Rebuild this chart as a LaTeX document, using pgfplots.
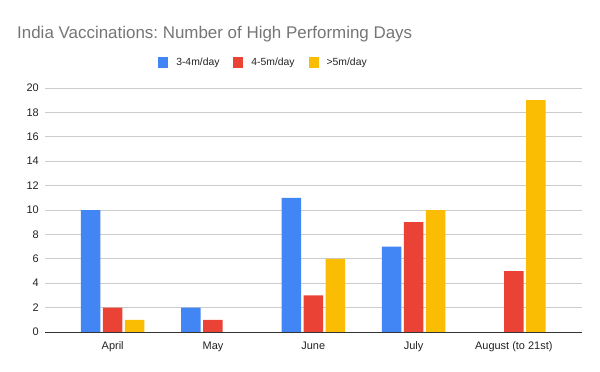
\documentclass[border=0pt]{standalone}
\usepackage{fontspec}
\setmainfont{Liberation Sans}
\usepackage{pgfplots}
\pgfplotsset{compat=1.18}
\definecolor{gblue}{HTML}{4285F4}
\definecolor{gred}{HTML}{EA4335}
\definecolor{gyellow}{HTML}{FBBC04}
\definecolor{titlegray}{HTML}{757575}
\definecolor{gridgray}{HTML}{CCCCCC}
\definecolor{labelgray}{HTML}{222222}
\frenchspacing
\begin{document}
\begin{tikzpicture}[x=1bp,y=1bp]
\useasboundingbox (0,0) rectangle (600,371);
\node[anchor=base west, text=titlegray, font=\fontsize{17}{20}\selectfont, inner sep=0pt] at (17,333) {India Vaccinations: Number of High Performing Days};
\begin{axis}[
  at={(45bp,39bp)}, anchor=south west,
  scale only axis, width=537bp, height=244bp,
  ybar=2.5bp, bar width=19.5bp,
  xmin=-0.675, xmax=4.68, ymin=0, ymax=20,
  ytick={0,2,...,20},
  xtick={0,1,2,3,4},
  xticklabels={April,May,June,July,{August (to 21st)}},
  ymajorgrids, grid style={gridgray, line width=0.8bp},
  axis line style={draw=none},
  major tick length=0pt, tick style={draw=none},
  /pgf/number format/assume math mode=true,
  tick label style={font=\fontsize{11}{13}\selectfont, text=labelgray},
  yticklabel style={anchor=east, inner sep=0pt, xshift=-6bp},
  xticklabel style={anchor=base, inner sep=0pt, yshift=-17bp},
  legend columns=3,
  legend style={at={(axis description cs:0.405,1.1045)}, anchor=center, draw=none,
    font=\fontsize{10.4}{12}\selectfont, text=labelgray,
    nodes={inner sep=0pt},
    column sep=8bp,
    /tikz/every even column/.append style={column sep=14bp}},
  legend image code/.code={\fill[#1] (0bp,-5bp) rectangle (10bp,5bp);},
  clip=false,
]
\addplot[fill=gblue, draw=none] coordinates {(0,10) (1,2) (2,11) (3,7) (4,0)};
\addplot[fill=gred, draw=none] coordinates {(0,2) (1,1) (2,3) (3,9) (4,5)};
\addplot[fill=gyellow, draw=none] coordinates {(0,1) (1,0) (2,6) (3,10) (4,19)};
\legend{3-4m/day,4-5m/day,>5m/day}
\draw[black!80, line width=1bp] (axis cs:-0.675,0) -- (axis cs:4.68,0);
\end{axis}
\end{tikzpicture}
\end{document}
